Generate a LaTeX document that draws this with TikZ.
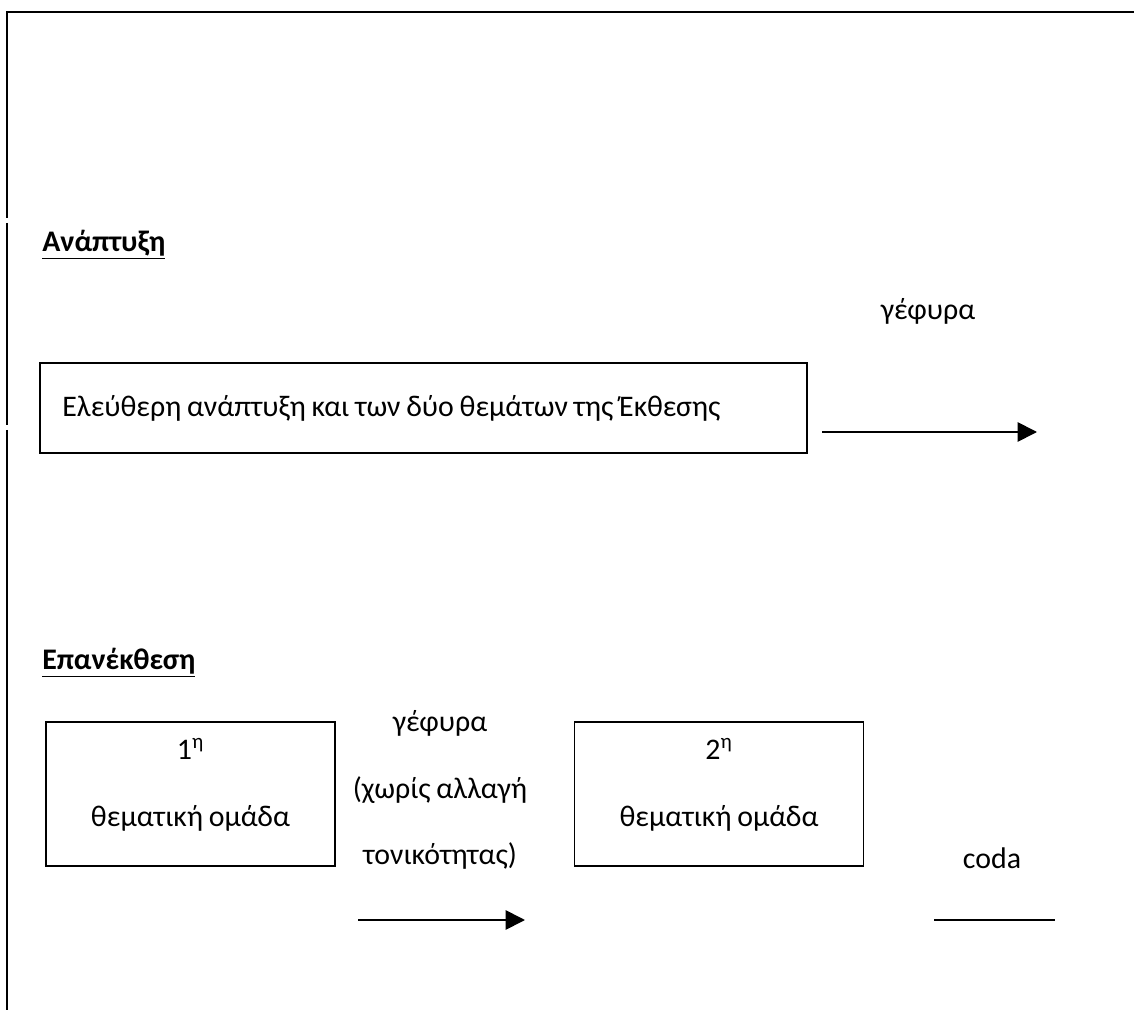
\documentclass[tikz,border=0pt]{standalone}
\usepackage{fontspec}
\setmainfont[WordSpace=0.85]{Carlito}
\usetikzlibrary{arrows.meta,positioning}

\begin{document}
\begin{tikzpicture}[x=0.02cm,y=-0.02cm,
    every node/.style={font=\fontsize{17}{38}\selectfont,inner sep=0pt},
    heading/.style={anchor=west,font=\fontsize{17}{38}\selectfont\bfseries},
    box/.style={draw,line width=0.8pt},
    group/.style={box,minimum width=5.78cm,minimum height=2.88cm},
    link/.style={line width=1pt,-{Triangle[length=11pt,width=11pt]}},
    plain/.style={line width=1pt},
    frame/.style={line width=1.2pt}]
    \useasboundingbox (0,0) rectangle (1134,1010);
    % outer frame
    \draw[frame] (1134,12) -- (7,12) -- (7,218);
    \draw[frame] (7,223) -- (7,425);
    \draw[frame] (7,430) -- (7,1010);

    % development
    \node[heading] (dev) at (42,245) {\underline{Ανάπτυξη}};
    \node[box,minimum width=15.34cm,minimum height=1.8cm] (free) at (423.5,408) {};
    \node[anchor=west] (free_text) at (62,408)
          {Ελεύθερη ανάπτυξη και των δύο θεμάτων της Έκθεσης};
    \node (bridge) at (928,311) {γέφυρα};
    \coordinate (bridge_a) at (822,432);
    \coordinate (bridge_b) at (1037,432);
    \draw[link] (bridge_a) -- (bridge_b);

    % recapitulation
    \node[heading] (recap) at (42,663) {\underline{Επανέκθεση}};
    \node[group] (g_1) at (190.5,794) {};
    \node[align=center] (g_1_text) at (190.5,785) {1\textsuperscript{η}\\θεματική ομάδα};
    \node[group] (g_2) at (719,794) {};
    \node[align=center] (g_2_text) at (719,785) {2\textsuperscript{η}\\θεματική ομάδα};
    \node[align=center] (link_text) at (440,790)
         {γέφυρα\\(χωρίς αλλαγή\\τονικότητας)};
    \coordinate (link_a) at (358,920);
    \coordinate (link_b) at (525,920);
    \draw[link] (link_a) -- (link_b);
    \node (coda) at (992,858) {coda};
    \coordinate (coda_a) at (934,920);
    \coordinate (coda_b) at (1055,920);
    \draw[plain] (coda_a) -- (coda_b);
  \end{tikzpicture}
\end{document}
